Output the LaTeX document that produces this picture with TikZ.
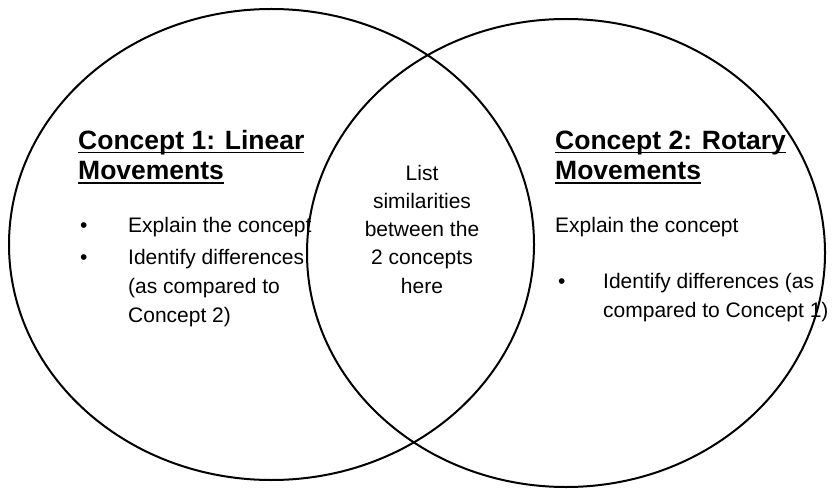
\documentclass[tikz,border=0pt]{standalone}
\usepackage{fontspec}
\setmainfont{Liberation Sans}
\usetikzlibrary{shapes.geometric, positioning}

\newcommand{\ulhead}[1]{\sbox0{#1}\rlap{\rule[-3.5pt]{\wd0}{1.5pt}}\usebox0}

\begin{document}
\begin{tikzpicture}[x=1pt, y=-1pt,
		venn/.style={draw, ellipse, line width=2pt, inner sep=0pt},
		head/.style={anchor=base west, inner sep=0pt, font=\fontsize{26.5}{29}\selectfont\bfseries},
		body/.style={anchor=base west, inner sep=0pt, font=\fontsize{21}{29}\selectfont, align=left},
		dot/.style={anchor=base west, inner sep=0pt, font=\fontsize{21}{29}\selectfont}]
		\useasboundingbox (0, 0) rectangle (832, 489);
		% the two sets
		\node[venn, minimum width=525pt, minimum height=471pt] (leftset) at (271.5, 244.5) {};
		\node[venn, minimum width=518pt, minimum height=468pt] (rightset) at (566, 253) {};
		% concept 1 (multi-line nodes sit on their last line)
		\node[head] (lefthead) at (78, 150) {\ulhead{Concept 1: Linear}};
		\node[head] (lefthead2) at (78, 180) {\ulhead{Movements}};
		\node[dot] (leftdot1) at (80, 233) {•};
		\node[body] (leftitem1) at (128, 233) {Explain the concept};
		\node[dot] (leftdot2) at (80, 264) {•};
		\node[body] (leftitem2) at (128, 322) {Identify differences\\(as compared to\\Concept 2)};
		% common part
		\node[body, anchor=base, align=center, font=\fontsize{21}{28.2}\selectfont] (common) at (422, 293) {List\\similarities\\between the\\2 concepts\\here};
		% concept 2
		\node[head] (righthead) at (555, 150) {\ulhead{Concept 2: Rotary}};
		\node[head] (righthead2) at (555, 180) {\ulhead{Movements}};
		\node[body] (rightitem1) at (555, 233) {Explain the concept};
		\node[dot] (rightdot) at (558, 288) {•};
		\node[body] (rightitem2) at (603, 317) {Identify differences (as\\compared to Concept 1)};
	\end{tikzpicture}
\end{document}
